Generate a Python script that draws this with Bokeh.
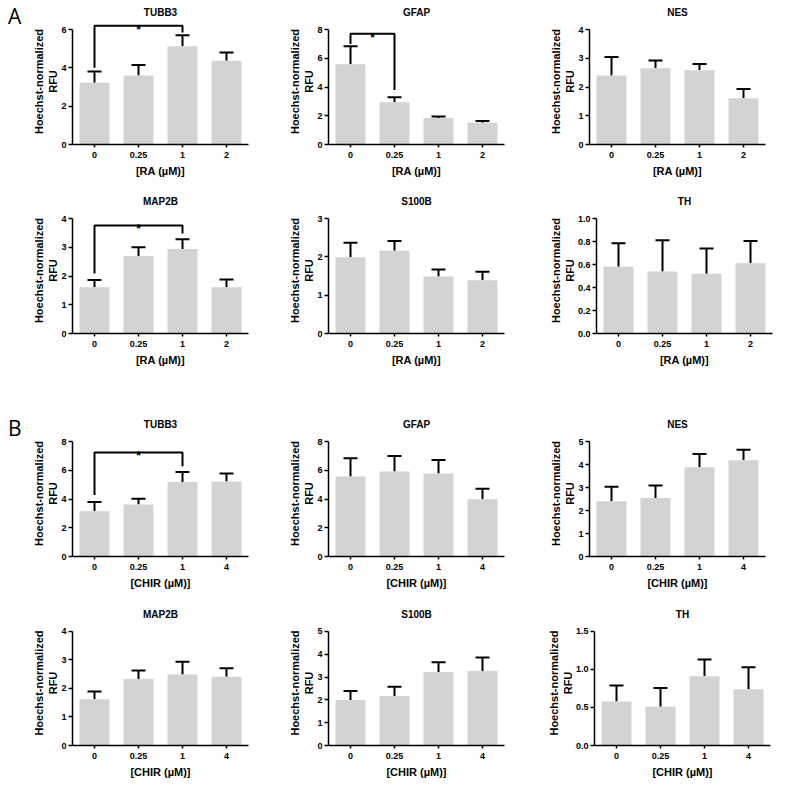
from bokeh.plotting import figure
from bokeh.models import ColumnDataSource, Whisker, TeeHead, FixedTicker, FactorRange, Range1d, Div
from bokeh.layouts import column, row
from bokeh.embed import file_html
from bokeh.resources import INLINE
from bokeh.core.properties import value

# ---------------- data ----------------
ra_doses = ["0", "0.25", "1", "2"]
chir_doses = ["0", "0.25", "1", "4"]
ra_label = "[RA (\u00b5M)]"
chir_label = "[CHIR (\u00b5M)]"
y_label = "Hoechst-normalized\nRFU"
panel_letters = ["A", "B"]

# Panel A (RA)
ra_tubb3 = [3.22, 3.60, 5.12, 4.37]
ra_tubb3_sem = [0.59, 0.55, 0.58, 0.43]
ra_gfap = [5.58, 2.94, 1.85, 1.52]
ra_gfap_sem = [1.26, 0.34, 0.10, 0.11]
ra_nes = [2.40, 2.65, 2.58, 1.61]
ra_nes_sem = [0.64, 0.27, 0.22, 0.32]
ra_map2b = [1.61, 2.70, 2.94, 1.61]
ra_map2b_sem = [0.25, 0.30, 0.34, 0.27]
ra_s100b = [1.99, 2.16, 1.49, 1.39]
ra_s100b_sem = [0.38, 0.25, 0.18, 0.22]
ra_th = [0.58, 0.54, 0.52, 0.61]
ra_th_sem = [0.205, 0.27, 0.22, 0.195]

# Panel B (CHIR)
chir_tubb3 = [3.15, 3.62, 5.18, 5.22]
chir_tubb3_sem = [0.65, 0.39, 0.70, 0.55]
chir_gfap = [5.57, 5.91, 5.77, 3.99]
chir_gfap_sem = [1.27, 1.09, 0.95, 0.72]
chir_nes = [2.40, 2.54, 3.88, 4.19]
chir_nes_sem = [0.63, 0.55, 0.58, 0.45]
chir_map2b = [1.62, 2.33, 2.49, 2.41]
chir_map2b_sem = [0.27, 0.30, 0.45, 0.30]
chir_s100b = [1.99, 2.17, 3.22, 3.26]
chir_s100b_sem = [0.40, 0.41, 0.43, 0.60]
chir_th = [0.58, 0.51, 0.91, 0.74]
chir_th_sem = [0.21, 0.245, 0.22, 0.29]

# y ticks per panel
ticks_0_6 = [0, 2, 4, 6]
ticks_0_8 = [0, 2, 4, 6, 8]
ticks_0_4 = [0, 1, 2, 3, 4]
ticks_0_3 = [0, 1, 2, 3]
ticks_0_5 = [0, 1, 2, 3, 4, 5]
ticks_th_a = [0.0, 0.2, 0.4, 0.6, 0.8, 1.0]
labels_th_a = ["0.0", "0.2", "0.4", "0.6", "0.8", "1.0"]
ticks_th_b = [0.0, 0.5, 1.0, 1.5]
labels_th_b = ["0.0", "0.5", "1.0", "1.5"]

# significance brackets: (from, to, bracket height, left leg end, right leg end)
sig_ra_tubb3 = ("0", "1", 6.2, 4.0, 5.85)
sig_ra_gfap = ("0", "0.25", 7.7, 7.0, 3.8)
sig_ra_map2b = ("0", "1", 3.76, 2.09, 3.48)
sig_chir_tubb3 = ("0", "1", 7.24, 4.28, 6.28)

# ---------------- style ----------------
FONT = "Liberation Sans"
BAR = "#d3d3d3"
FW, FH, AXPX = 176, 126, 115
LETTER_W = 24


def panel(gene, doses, means, sems, yticks, xlabel, L, R, T, B,
          ylabels=None, bracket=None):
    top = yticks[-1]
    p = figure(width=L + FW + R, height=T + FH + B, title=gene,
               x_range=FactorRange(*doses), y_range=Range1d(0, top * FH / AXPX),
               output_backend="svg", toolbar_location=None,
               min_border_left=L, min_border_right=R, min_border_top=T, min_border_bottom=B)
    p.outline_line_color = None
    p.grid.visible = False
    p.background_fill_color = "white"
    p.title.align = "center"
    p.title.text_font = FONT
    p.title.text_font_style = "bold"
    p.title.text_font_size = "10px"
    p.title.text_color = "black"
    p.title.standoff = 2

    src = ColumnDataSource(dict(x=doses, m=means, u=[m + s for m, s in zip(means, sems)]))
    p.vbar(x="x", top="m", width=0.68, source=src, fill_color=BAR, line_color=None)
    p.add_layout(Whisker(source=src, base="x", lower="m", upper="u", dimension="height",
                         line_width=2, line_color="black", lower_head=None,
                         upper_head=TeeHead(size=14, line_width=2, line_color="black")))

    xa = p.xaxis[0]
    ya = p.yaxis[0]
    xa.axis_label = xlabel
    ya.axis_label = y_label
    ya.ticker = FixedTicker(ticks=yticks)
    ya.bounds = (0, top)
    if ylabels is not None:
        ya.major_label_overrides = {t: l for t, l in zip(yticks, ylabels)}
    for ax in (xa, ya):
        ax.axis_line_width = 1.5
        ax.axis_line_color = "black"
        ax.major_tick_line_width = 1.5
        ax.major_tick_line_color = "black"
        ax.minor_tick_line_color = None
        ax.major_tick_in = 0
        ax.major_label_text_font = FONT
        ax.major_label_text_font_style = "bold"
        ax.major_label_text_font_size = "9px"
        ax.major_label_text_color = "black"
        ax.axis_label_text_font = FONT
        ax.axis_label_text_font_style = "bold"
        ax.axis_label_text_font_size = "11px"
        ax.axis_label_text_color = "black"
    ya.major_tick_out = 4
    ya.major_label_standoff = 2
    ya.axis_label_standoff = -1
    xa.major_tick_out = 3
    xa.major_label_standoff = 4
    xa.axis_label_standoff = 4

    if bracket is not None:
        f, t, yb, lo_l, lo_r = bracket
        p.line(x=[f, f, t, t], y=[lo_l, yb, yb, lo_r], line_width=2, line_color="black")
        mid = (doses.index(f) + doses.index(t)) / 2 + 0.5
        p.text(x=[mid], y=[yb], text=["*"], text_align="center", text_baseline="alphabetic",
               y_offset=4, text_font=value(FONT), text_font_style="bold",
               text_font_size="12px", text_color="black")
    return p


def letter_div(letter, height, top_px):
    html = ("<div style=\"padding-top:%dpx; padding-left:8px; font-family:'Open Sans'; "
            "font-size:21px; line-height:21px; color:black; margin:0;\">%s</div>") % (top_px, letter)
    return Div(text=html, width=LETTER_W, height=height, margin=0)


# row borders (top, bottom)
r1 = (18, 40)
r2 = (23, 60)
r3 = (37, 40)
r4 = (24, 34)
h1 = r1[0] + FH + r1[1]
h3 = r3[0] + FH + r3[1]

row1 = row(
    letter_div(panel_letters[0], h1, 6),
    panel("TUBB3", ra_doses, ra_tubb3, ra_tubb3_sem, ticks_0_6, ra_label, 72 - LETTER_W, 16, *r1,
          bracket=sig_ra_tubb3),
    panel("GFAP", ra_doses, ra_gfap, ra_gfap_sem, ticks_0_8, ra_label, 64, 21, *r1,
          bracket=sig_ra_gfap),
    panel("NES", ra_doses, ra_nes, ra_nes_sem, ticks_0_4, ra_label, 64, 15, *r1),
)
row2 = row(
    panel("MAP2B", ra_doses, ra_map2b, ra_map2b_sem, ticks_0_4, ra_label, 72, 16, *r2,
          bracket=sig_ra_map2b),
    panel("S100B", ra_doses, ra_s100b, ra_s100b_sem, ticks_0_3, ra_label, 64, 21, *r2),
    panel("TH", ra_doses, ra_th, ra_th_sem, ticks_th_a, ra_label, 71, 8, *r2,
          ylabels=labels_th_a),
)
row3 = row(
    letter_div(panel_letters[1], h3, 25),
    panel("TUBB3", chir_doses, chir_tubb3, chir_tubb3_sem, ticks_0_8, chir_label, 72 - LETTER_W, 16, *r3,
          bracket=sig_chir_tubb3),
    panel("GFAP", chir_doses, chir_gfap, chir_gfap_sem, ticks_0_8, chir_label, 64, 21, *r3),
    panel("NES", chir_doses, chir_nes, chir_nes_sem, ticks_0_5, chir_label, 64, 15, *r3),
)
row4 = row(
    panel("MAP2B", chir_doses, chir_map2b, chir_map2b_sem, ticks_0_4, chir_label, 72, 16, *r4),
    panel("S100B", chir_doses, chir_s100b, chir_s100b_sem, ticks_0_5, chir_label, 64, 21, *r4),
    panel("TH", chir_doses, chir_th, chir_th_sem, ticks_th_b, chir_label, 69, 10, *r4,
          ylabels=labels_th_b),
)

layout = column(row1, row2, row3, row4)
open("out.html", "w").write(file_html(layout, INLINE))
